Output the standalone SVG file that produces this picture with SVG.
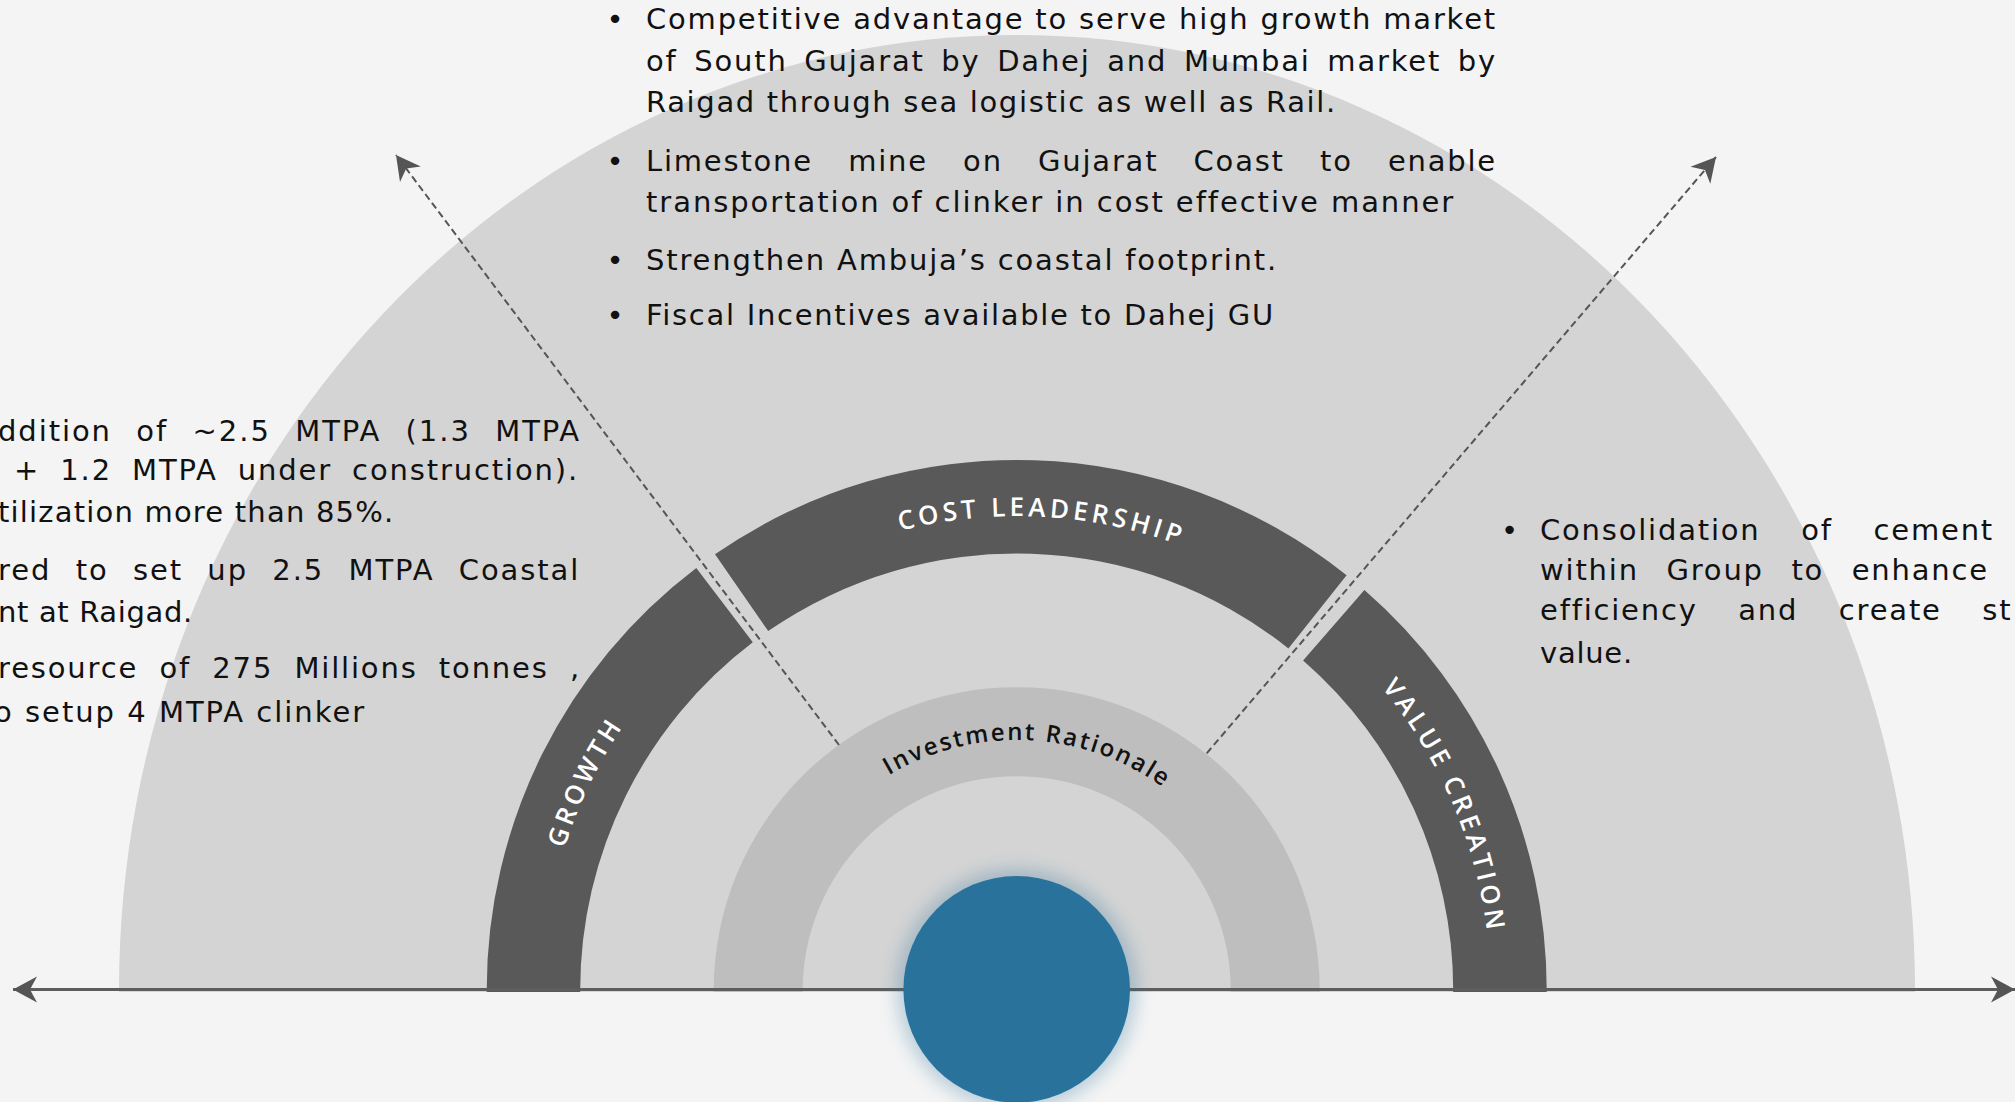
<svg xmlns="http://www.w3.org/2000/svg" xmlns:xlink="http://www.w3.org/1999/xlink" width="2015" height="1102" viewBox="0 0 2015 1102">
<style>
.body{font-family:"DejaVu Sans","Liberation Sans",sans-serif;font-size:29px;fill:#111;letter-spacing:1.8px;}
.bul{font-family:"DejaVu Sans","Liberation Sans",sans-serif;font-size:29px;fill:#111;text-anchor:middle;}
.seg{fill:#595959;}
.lab{font-family:"Open Sans","DejaVu Sans",sans-serif;font-size:26px;font-weight:600;fill:#fff;letter-spacing:4px;text-anchor:middle;}
.inv{font-family:"Open Sans","DejaVu Sans",sans-serif;font-size:24px;font-weight:600;fill:#111;letter-spacing:2.2px;text-anchor:middle;}
.dash{fill:none;stroke:#555;stroke-width:2;stroke-dasharray:7 4;}
.axis{fill:none;stroke:#5d5d5d;stroke-width:3;}
</style>
<defs>
<marker id="arr" markerUnits="userSpaceOnUse" orient="auto-start-reverse" refX="0" refY="0" markerWidth="30" markerHeight="30" overflow="visible">
<path d="M0,0 L-24,-13 L-17,0 L-24,13 Z" fill="#555"/>
</marker>
<filter id="glow" x="-50%" y="-50%" width="200%" height="200%">
<feGaussianBlur stdDeviation="9"/>
</filter>
<path id="arcLab" d="M542.7,990 A474,474 0 0 1 1490.7,990"/>
<path id="arcInv" d="M766.7,990 A250,250 0 0 1 1266.7,990"/>
</defs>
<rect x="0" y="0" width="2015" height="1102" fill="#f4f4f4"/>

<g id="outer-field">
<path d="M119,992 L119,990 A898,955 0 0 1 1915,990 L1915,992 Z" fill="#d4d4d4"/>
</g>

<g id="growth">
<path class="seg" d="M486.7,992 L486.7,990 A530,530 0 0 1 696.3,567.9 L752.8,642.3 A436.5,436.5 0 0 0 580.2,990 L580.2,992 Z"/>
<text class="lab"><textPath xlink:href="#arcLab" href="#arcLab" startOffset="14.3%">GROWTH</textPath></text>
</g>

<g id="cost-leadership">
<path class="seg" d="M715.0,554.3 A530,530 0 0 1 1346.6,575.2 L1288.4,648.4 A436.5,436.5 0 0 0 768.2,631.1 Z"/>
<text class="lab"><textPath xlink:href="#arcLab" href="#arcLab" startOffset="51.7%">COST LEADERSHIP</textPath></text>
</g>

<g id="value-creation">
<path class="seg" d="M1364.4,590.0 A530,530 0 0 1 1546.7,990 L1546.7,992 L1453.2,992 L1453.2,990 A436.5,436.5 0 0 0 1303.1,660.6 Z"/>
<text class="lab"><textPath xlink:href="#arcLab" href="#arcLab" startOffset="87.1%">VALUE CREATION</textPath></text>
</g>

<g id="investment-rationale">
<path d="M713.7,992 L713.7,990 A303,303 0 0 1 1319.7,990 L1319.7,992 L1230.7,992 L1230.7,990 A214,214 0 0 0 802.7,990 L802.7,992 Z" fill="#bebebe"/>
<text class="inv"><textPath xlink:href="#arcInv" href="#arcInv" startOffset="51.5%">Investment Rationale</textPath></text>
</g>

<g id="connectors">
<path class="axis" d="M13,989.5 L2015,989.5" marker-start="url(#arr)" marker-end="url(#arr)"/>
<path class="dash" d="M839,745 L396,155" marker-end="url(#arr)"/>
<path class="dash" d="M1206.7,753.3 L1716,157" marker-end="url(#arr)"/>
</g>

<g id="core">
<circle cx="1016.7" cy="989.3" r="120" fill="#2a729c" opacity="0.3" filter="url(#glow)"/>
<circle cx="1016.7" cy="989.3" r="113.3" fill="#29729c"/>
</g>

<g id="text-top">
<text class="bul" x="615" y="29">•</text>
<text class="body" x="646" y="29" textLength="851" lengthAdjust="spacing">Competitive advantage to serve high growth market</text>
<text class="body" x="646" y="71" textLength="851" lengthAdjust="spacing" style="word-spacing:5.6px">of South Gujarat by Dahej and Mumbai market by</text>
<text class="body" x="646" y="112" textLength="691" lengthAdjust="spacing">Raigad through sea logistic as well as Rail.</text>
<text class="bul" x="615" y="171">•</text>
<text class="body" x="646" y="171" textLength="851" lengthAdjust="spacing" style="word-spacing:24.2px">Limestone mine on Gujarat Coast to enable</text>
<text class="body" x="646" y="212" textLength="809" lengthAdjust="spacing">transportation of clinker in cost effective manner</text>
<text class="bul" x="615" y="270">•</text>
<text class="body" x="646" y="270" textLength="632" lengthAdjust="spacing">Strengthen Ambuja’s coastal footprint.</text>
<text class="bul" x="615" y="325">•</text>
<text class="body" x="646" y="325" textLength="629" lengthAdjust="spacing">Fiscal Incentives available to Dahej GU</text>
</g>

<g id="text-left">
<text class="body" x="-2" y="441" textLength="583" lengthAdjust="spacing" style="word-spacing:13.3px">ddition of ~2.5 MTPA (1.3 MTPA</text>
<text class="body" x="14" y="480" textLength="565" lengthAdjust="spacing" style="word-spacing:9px">+ 1.2 MTPA under construction).</text>
<text class="body" x="-2" y="522" textLength="397" lengthAdjust="spacing">tilization more than 85%.</text>
<text class="body" x="-2" y="580" textLength="582" lengthAdjust="spacing" style="word-spacing:13.3px">red to set up 2.5 MTPA Coastal</text>
<text class="body" x="-2" y="621.5" textLength="196" lengthAdjust="spacing">nt at Raigad.</text>
<text class="body" x="-2" y="678" textLength="583" lengthAdjust="spacing" style="word-spacing:10.2px">resource of 275 Millions tonnes ,</text>
<text class="body" x="-6" y="721.5" textLength="372" lengthAdjust="spacing">o setup 4 MTPA clinker</text>
</g>

<g id="text-right">
<text class="bul" x="1509.5" y="540">•</text>
<text class="body" x="1540" y="540" textLength="454" lengthAdjust="spacing" style="word-spacing:29.7px">Consolidation of cement</text>
<text class="body" x="1540" y="580" textLength="449" lengthAdjust="spacing" style="word-spacing:16.5px">within Group to enhance</text>
<text class="body" x="1540" y="620" style="word-spacing:29.6px">efficiency and create st</text>
<text class="body" x="1540" y="663" textLength="94" lengthAdjust="spacing">value.</text>
</g>
</svg>
